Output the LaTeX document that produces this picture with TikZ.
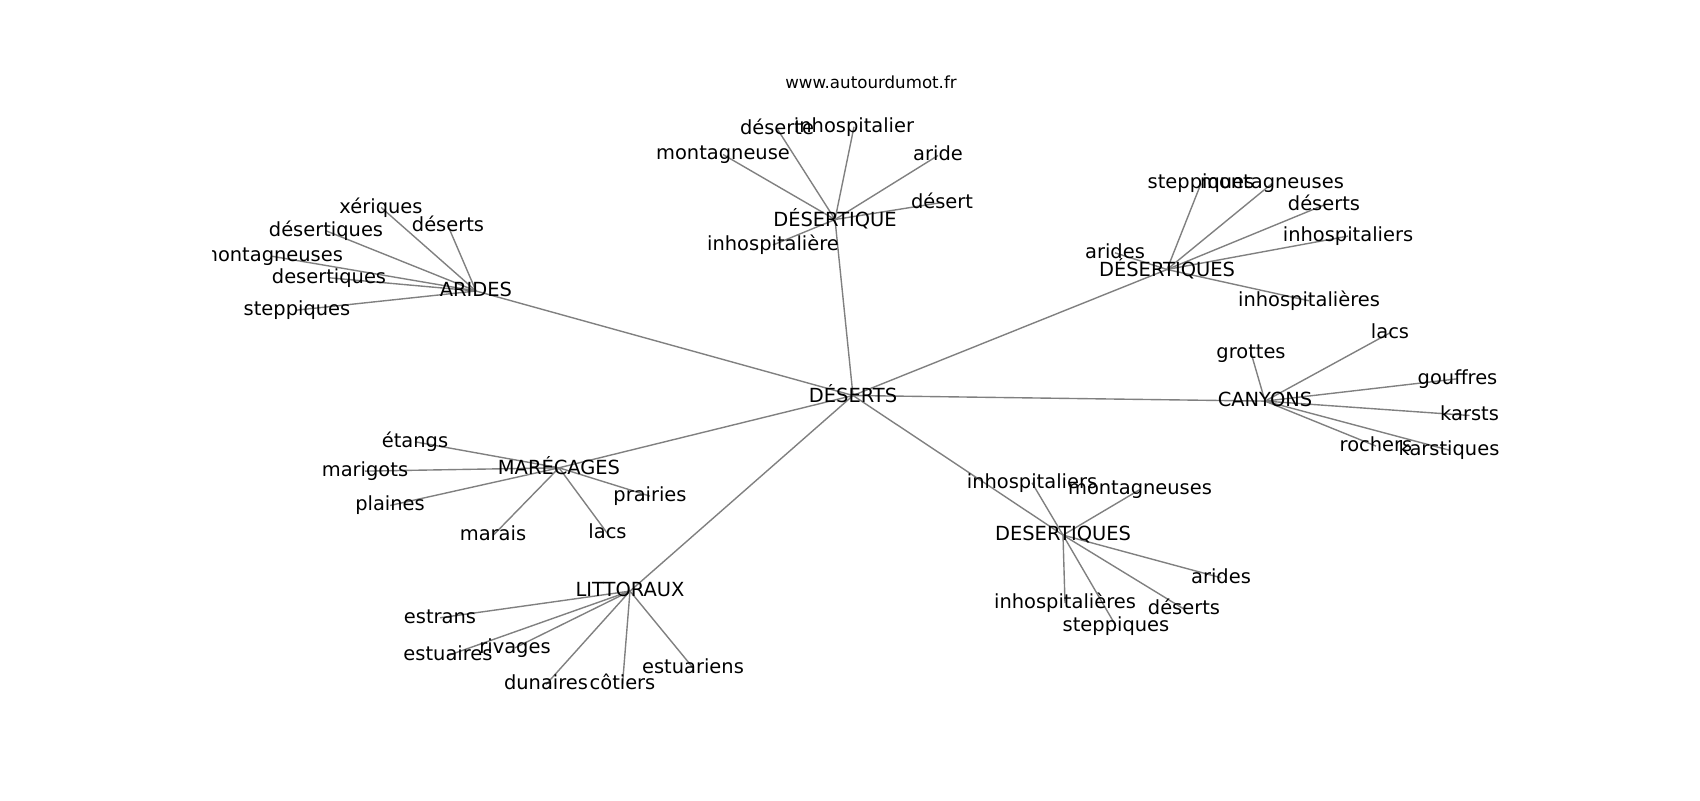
\documentclass[tikz,border=0pt]{standalone}
\usepackage{fontspec}
\setmainfont{DejaVu Sans}
\definecolor{edgegray}{HTML}{808080}
\begin{document}
\begin{tikzpicture}[x=0.72pt,y=-0.72pt,
  edge/.style={draw=edgegray, line width=1pt},
  lbl/.style={inner sep=0pt, outer sep=0pt, anchor=center, text=black,
    font=\fontsize{14}{17}\selectfont, execute at begin node={\vphantom{lp}}},
  ttl/.style={inner sep=0pt, anchor=base, text=black, font=\fontsize{12}{14}\selectfont}]
\useasboundingbox[fill=white] (0,0) rectangle (1700,800);
% title
\node[ttl] (title) at (871,88) {www.autourdumot.fr};
\begin{scope}
\clip (212.5,96) rectangle (1530,712);
\begin{scope}[shift={(0,1.5)}]
% graph positions
\coordinate (D) at (853,394);
\coordinate (AR) at (476,289.5);
\coordinate (ar1) at (381,205.8);
\coordinate (ar2) at (448,224.3);
\coordinate (ar3) at (326,229.3);
\coordinate (ar4) at (271,254.6);
\coordinate (ar5) at (329,276.3);
\coordinate (ar6) at (297,308.6);
\coordinate (DQ) at (835,218);
\coordinate (dq1) at (777,127);
\coordinate (dq2) at (854,125.3);
\coordinate (dq3) at (723,153);
\coordinate (dq4) at (938,154);
\coordinate (dq5) at (942,201);
\coordinate (dq6) at (773,243.5);
\coordinate (DS) at (1167,268);
\coordinate (ds1) at (1115,251.3);
\coordinate (ds2) at (1201,182);
\coordinate (ds3) at (1272,182);
\coordinate (ds4) at (1324,203.5);
\coordinate (ds5) at (1348,234.6);
\coordinate (ds6) at (1309,299.3);
\coordinate (CA) at (1265,399.6);
\coordinate (ca1) at (1251,351.3);
\coordinate (ca2) at (1390,331.3);
\coordinate (ca3) at (1457.5,377.3);
\coordinate (ca4) at (1469.5,414);
\coordinate (ca5) at (1376,444.6);
\coordinate (ca6) at (1449,448.6);
\coordinate (DB) at (1063,533.6);
\coordinate (db1) at (1032,481.3);
\coordinate (db2) at (1140,488);
\coordinate (db3) at (1221,576.3);
\coordinate (db4) at (1184,607.6);
\coordinate (db5) at (1065,601.6);
\coordinate (db6) at (1116,624.6);
\coordinate (MA) at (559,466.3);
\coordinate (ma1) at (415,440.3);
\coordinate (ma2) at (365,469.6);
\coordinate (ma3) at (390,504);
\coordinate (ma4) at (493,534);
\coordinate (ma5) at (607.5,532);
\coordinate (ma6) at (650,494.6);
\coordinate (LI) at (630,589.6);
\coordinate (li1) at (440,616.3);
\coordinate (li2) at (448,654);
\coordinate (li3) at (515,646.3);
\coordinate (li4) at (546,683);
\coordinate (li5) at (622.5,682.6);
\coordinate (li6) at (693,666.3);
% edges
\foreach \h in {AR,DQ,DS,CA,DB,MA,LI} \draw[edge] (D) -- (\h);
\foreach \i in {1,...,6} {
  \draw[edge] (AR) -- (ar\i);
  \draw[edge] (DQ) -- (dq\i);
  \draw[edge] (DS) -- (ds\i);
  \draw[edge] (CA) -- (ca\i);
  \draw[edge] (DB) -- (db\i);
  \draw[edge] (MA) -- (ma\i);
  \draw[edge] (LI) -- (li\i);
}
% labels
\node[lbl] (D-l) at (D) {DÉSERTS};
\node[lbl] (AR-l) at (AR) {ARIDES};
\node[lbl] (ar1-l) at (ar1) {xériques};
\node[lbl] (ar2-l) at (ar2) {déserts};
\node[lbl] (ar3-l) at (ar3) {désertiques};
\node[lbl] (ar4-l) at (ar4) {montagneuses};
\node[lbl] (ar5-l) at (ar5) {desertiques};
\node[lbl] (ar6-l) at (ar6) {steppiques};
\node[lbl] (DQ-l) at (DQ) {DÉSERTIQUE};
\node[lbl] (dq1-l) at (dq1) {déserte};
\node[lbl] (dq2-l) at (dq2) {inhospitalier};
\node[lbl] (dq3-l) at (dq3) {montagneuse};
\node[lbl] (dq4-l) at (dq4) {aride};
\node[lbl] (dq5-l) at (dq5) {désert};
\node[lbl] (dq6-l) at (dq6) {inhospitalière};
\node[lbl] (DS-l) at (DS) {DÉSERTIQUES};
\node[lbl] (ds1-l) at (ds1) {arides};
\node[lbl] (ds2-l) at (ds2) {steppiques};
\node[lbl] (ds3-l) at (ds3) {montagneuses};
\node[lbl] (ds4-l) at (ds4) {déserts};
\node[lbl] (ds5-l) at (ds5) {inhospitaliers};
\node[lbl] (ds6-l) at (ds6) {inhospitalières};
\node[lbl] (CA-l) at (CA) {CANYONS};
\node[lbl] (ca1-l) at (ca1) {grottes};
\node[lbl] (ca2-l) at (ca2) {lacs};
\node[lbl] (ca3-l) at (ca3) {gouffres};
\node[lbl] (ca4-l) at (ca4) {karsts};
\node[lbl] (ca5-l) at (ca5) {rochers};
\node[lbl] (ca6-l) at (ca6) {karstiques};
\node[lbl] (DB-l) at (DB) {DESERTIQUES};
\node[lbl] (db1-l) at (db1) {inhospitaliers};
\node[lbl] (db2-l) at (db2) {montagneuses};
\node[lbl] (db3-l) at (db3) {arides};
\node[lbl] (db4-l) at (db4) {déserts};
\node[lbl] (db5-l) at (db5) {inhospitalières};
\node[lbl] (db6-l) at (db6) {steppiques};
\node[lbl] (MA-l) at (MA) {MARÉCAGES};
\node[lbl] (ma1-l) at (ma1) {étangs};
\node[lbl] (ma2-l) at (ma2) {marigots};
\node[lbl] (ma3-l) at (ma3) {plaines};
\node[lbl] (ma4-l) at (ma4) {marais};
\node[lbl] (ma5-l) at (ma5) {lacs};
\node[lbl] (ma6-l) at (ma6) {prairies};
\node[lbl] (LI-l) at (LI) {LITTORAUX};
\node[lbl] (li1-l) at (li1) {estrans};
\node[lbl] (li2-l) at (li2) {estuaires};
\node[lbl] (li3-l) at (li3) {rivages};
\node[lbl] (li4-l) at (li4) {dunaires};
\node[lbl] (li5-l) at (li5) {côtiers};
\node[lbl] (li6-l) at (li6) {estuariens};
\end{scope}
\end{scope}
\end{tikzpicture}
\end{document}
